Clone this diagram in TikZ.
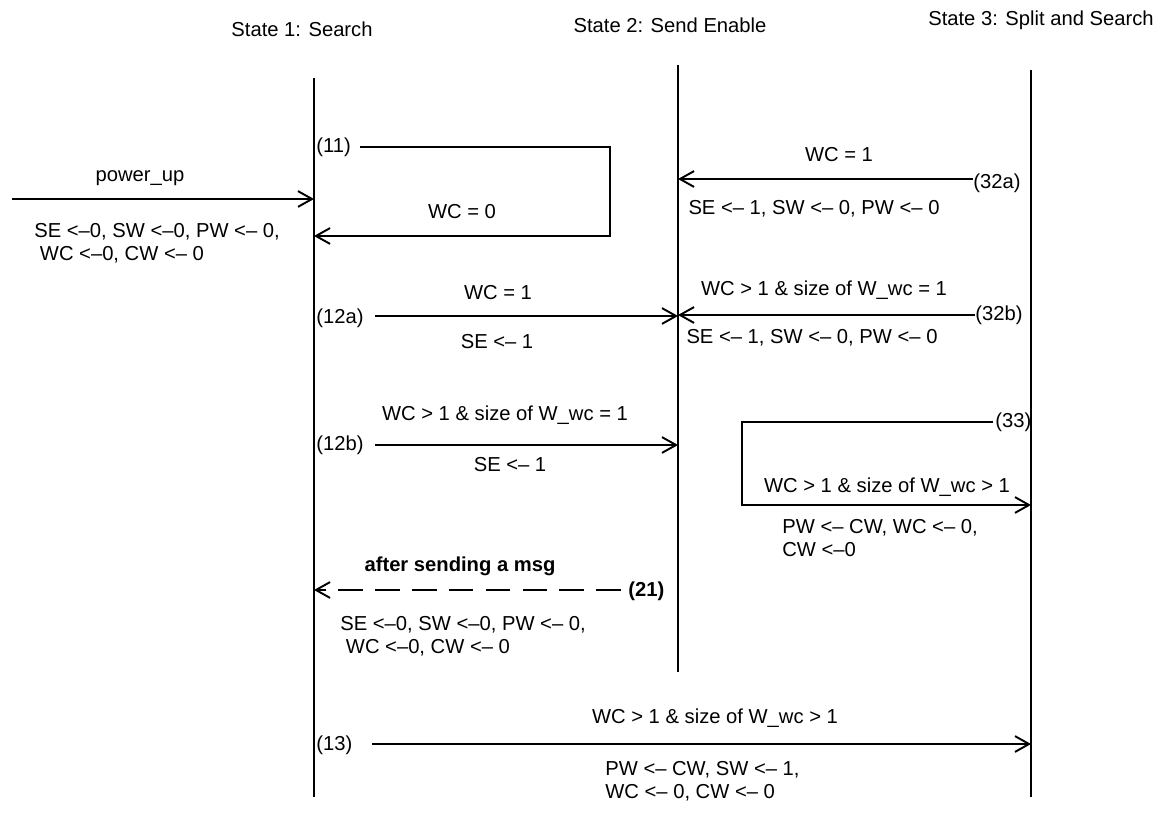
\documentclass[tikz,border=0pt]{standalone}
\usepackage{fontspec}
\setmainfont{Liberation Sans}
\usetikzlibrary{arrows.meta}
\begin{document}
\begin{tikzpicture}[x=0.02cm,y=-0.02cm,
  life/.style={line width=1.2pt},
  msg/.style={line width=1.2pt,-{Straight Barb[length=8pt,width=9pt,line width=1.1pt]}},
  dmsg/.style={msg,dash pattern=on 14pt off 7pt},
  lbl/.style={font=\fontsize{11.5}{13}\selectfont,inner sep=0pt},
  blbl/.style={lbl,font=\fontsize{11.5}{13}\selectfont\bfseries},
  ml/.style={lbl,align=left,anchor=north west}]
\useasboundingbox (0,0) rectangle (1158,813);

% state headings
\node[lbl] (h1) at (302,29) {State 1: Search};
\node[lbl] (h2) at (670,25) {State 2: Send Enable};
\node[lbl,anchor=east] (h3) at (1154,20) {State 3: Split and Search};

% lifelines
\coordinate (l1t) at (314,78);  \coordinate (l1b) at (314,797);
\coordinate (l2t) at (678,65);  \coordinate (l2b) at (678,672);
\coordinate (l3t) at (1031,70); \coordinate (l3b) at (1031,797);
\draw[life] (l1t) -- (l1b);
\draw[life] (l2t) -- (l2b);
\draw[life] (l3t) -- (l3b);

% power_up
\coordinate (pu0) at (12,199); \coordinate (pu1) at (314,199);
\draw[msg] (pu0) -- (pu1);
\node[lbl] (pul) at (140,178) {power\_up};
\node[ml] (pua) at (34,223) {SE <--0, SW <--0, PW <-- 0,\\\ WC <--0, CW <-- 0};

% (11) self loop on state 1
\node[lbl,anchor=west] (n11) at (316,147) {(11)};
\coordinate (c11) at (610,236); \coordinate (e11) at (314,236);
\draw[msg] ([xshift=5pt]n11.east) -| (c11) -- (e11);
\node[lbl] (l11) at (462,212) {WC = 0};

% (32a)
\node[lbl,anchor=west] (n32a) at (973,183) {(32a)};
\coordinate (e32a) at (678,179);
\draw[msg] (n32a.west |- e32a) -- (e32a);
\node[lbl] (t32a) at (839,155) {WC = 1};
\node[lbl] (b32a) at (814,209) {SE <-- 1, SW <-- 0, PW <-- 0};

% (12a)
\node[lbl,anchor=west] (n12a) at (316,318) {(12a)};
\coordinate (s12a) at (375,316); \coordinate (e12a) at (678,316);
\draw[msg] (s12a) -- (e12a);
\node[lbl] (t12a) at (498,293) {WC = 1};
\node[lbl] (b12a) at (497,342) {SE <-- 1};

% (32b)
\node[lbl,anchor=west] (n32b) at (975,315) {(32b)};
\coordinate (e32b) at (678,315);
\draw[msg] (n32b.west |- e32b) -- (e32b);
\node[lbl] (t32b) at (824,290) {WC > 1 \& size of W\_wc = 1};
\node[lbl] (b32b) at (812,338) {SE <-- 1, SW <-- 0, PW <-- 0};

% (12b)
\node[lbl,anchor=west] (n12b) at (316,445) {(12b)};
\coordinate (s12b) at (375,445); \coordinate (e12b) at (678,445);
\draw[msg] (s12b) -- (e12b);
\node[lbl] (t12b) at (505,415) {WC > 1 \& size of W\_wc = 1};
\node[lbl] (b12b) at (510,465) {SE <-- 1};

% (33) self loop on state 3
\node[lbl,anchor=west] (n33) at (995,422) {(33)};
\coordinate (c33) at (742,505); \coordinate (e33) at (1031,505);
\draw[msg] ([xshift=-1pt]n33.west) -| (c33) -- (e33);
\node[lbl] (t33) at (887,487) {WC > 1 \& size of W\_wc > 1};
\node[ml] (b33) at (782,519) {PW <-- CW, WC <-- 0,\\CW <--0};

% (21) dashed return to state 1
\node[blbl,anchor=west] (n21) at (628,591) {(21)};
\coordinate (e21) at (314,590);
\draw[dmsg] ([xshift=-4pt]n21.west |- e21) -- (e21);
\node[blbl] (t21) at (460,566) {after sending a msg};
\node[ml] (b21) at (340,616) {SE <--0, SW <--0, PW <-- 0,\\\ WC <--0, CW <-- 0};

% (13)
\node[lbl,anchor=west] (n13) at (316,745) {(13)};
\coordinate (s13) at (372,744); \coordinate (e13) at (1031,744);
\draw[msg] (s13) -- (e13);
\node[lbl] (t13) at (715,718) {WC > 1 \& size of W\_wc > 1};
\node[ml] (b13) at (605,761) {PW <-- CW, SW <-- 1,\\WC <-- 0, CW <-- 0};
\end{tikzpicture}
\end{document}
